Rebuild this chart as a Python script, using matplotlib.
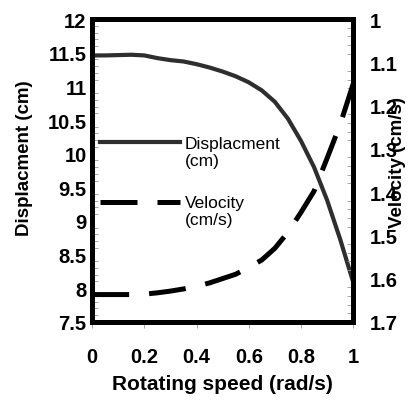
import numpy as np
import matplotlib
matplotlib.use('Agg')
import matplotlib.pyplot as plt
from matplotlib.ticker import MultipleLocator
from matplotlib.legend_handler import HandlerLine2D

plt.rcParams['font.family'] = ['Liberation Sans', 'DejaVu Sans']

# Datos (cada 0.05 rad/s)
speed = [0.0, 0.05, 0.1, 0.15, 0.2, 0.25, 0.3, 0.35, 0.4, 0.45, 0.5,
         0.55, 0.6, 0.65, 0.7, 0.75, 0.8, 0.85, 0.9, 0.95, 1.0]
displacement = [11.46, 11.46, 11.465, 11.47, 11.46, 11.42, 11.39, 11.37, 11.33, 11.28, 11.22,
                11.15, 11.06, 10.94, 10.77, 10.52, 10.19, 9.80, 9.31, 8.73, 8.09]
velocity = [1.637, 1.637, 1.637, 1.637, 1.636, 1.633, 1.629, 1.624, 1.618, 1.610, 1.600,
            1.590, 1.574, 1.557, 1.530, 1.493, 1.447, 1.398, 1.322, 1.244, 1.150]

xtick_labels = ['0', '0.2', '0.4', '0.6', '0.8', '1']
disp_ticks = ['7.5', '8', '8.5', '9', '9.5', '10', '10.5', '11', '11.5', '12']
vel_ticks = ['1', '1.1', '1.2', '1.3', '1.4', '1.5', '1.6', '1.7']


class UpperHandler(HandlerLine2D):
    """Coloca la muestra de la linea a la altura de la primera linea del texto"""
    def create_artists(self, legend, orig_handle, xdescent, ydescent,
                       width, height, fontsize, trans):
        arts = super().create_artists(legend, orig_handle, xdescent, ydescent,
                                      width, height, fontsize, trans)
        for a in arts:
            if hasattr(a, 'set_ydata'):
                a.set_ydata(np.asarray(a.get_ydata()) + 0.55 * fontsize)
        return arts


fig = plt.figure(figsize=(4.15, 4.02), dpi=100)
ax = fig.add_axes([0.222, 0.197, 0.629, 0.753])
ax2 = ax.twinx()

ln1, = ax.plot(speed, displacement, color='#2e2e2e', linewidth=3.0,
               label='Displacment\n(cm)')
ln2, = ax2.plot(speed, velocity, color='black', linewidth=3.6,
                dashes=(7.4, 4.0), label='Velocity\n(cm/s)')

ax.set_xlim(0, 1)
ax.set_ylim(7.5, 12)
ax2.set_ylim(1.7, 1.0)

ax.set_xticks(np.linspace(0, 1, 6))
ax.set_xticklabels(xtick_labels)
ax.set_yticks(np.linspace(7.5, 12, 10))
ax.set_yticklabels(disp_ticks)
ax.yaxis.set_minor_locator(MultipleLocator(0.1))
ax2.set_yticks(np.linspace(1.0, 1.7, 8))
ax2.set_yticklabels(vel_ticks)
ax2.yaxis.set_minor_locator(MultipleLocator(0.02))

for a in (ax, ax2):
    for s in a.spines.values():
        s.set_linewidth(3.5)
    a.tick_params(labelsize=14.5, width=0.6)
    for lbl in a.get_yticklabels() + a.get_xticklabels():
        lbl.set_fontweight('bold')

ax.tick_params(axis='x', direction='out', length=4, color='#999999', pad=14)
ax.tick_params(axis='y', which='major', direction='in', length=0, pad=4)
ax.tick_params(axis='y', which='minor', direction='in', length=4, color='#999999')
ax2.tick_params(axis='y', which='major', direction='in', length=0, pad=12)
ax2.tick_params(axis='y', which='minor', direction='in', length=4, color='#999999')

ax.set_xlabel('Rotating speed (rad/s)', fontsize=15, fontweight='bold', labelpad=6)
ax.set_ylabel('Displacment (cm)', fontsize=13.5, fontweight='bold')
ax.yaxis.set_label_coords(-0.225, 0.545)
# en el original la etiqueta derecha se monta sobre los valores del eje
ax2.set_ylabel('Velocity (cm/s)', fontsize=13.5, fontweight='bold')
ax2.yaxis.set_label_coords(1.136, 0.528)

ax.legend([ln1, ln2], [ln1.get_label(), ln2.get_label()], loc='upper left',
          bbox_to_anchor=(0.03, 0.615), borderaxespad=0, borderpad=0,
          frameon=False, fontsize=12.5, handlelength=4.6, handletextpad=0.3,
          labelspacing=1.55, handler_map={ln1: UpperHandler(), ln2: UpperHandler()})

fig.savefig('out.png', dpi=100)
